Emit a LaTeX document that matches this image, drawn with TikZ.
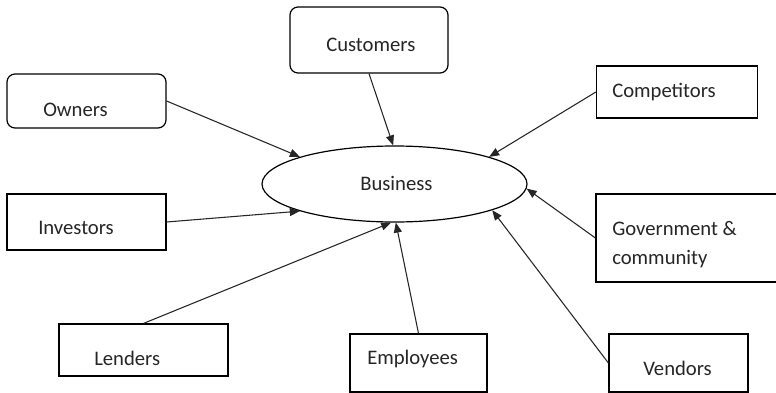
\documentclass[tikz,border=0pt]{standalone}
\usepackage{fontspec}
\setmainfont{Carlito}
\usetikzlibrary{shapes.geometric,arrows.meta}
\tikzset{
  box/.style={draw=black, line width=0.9pt, inner sep=0pt},
  rbox/.style={box, rounded corners=6pt},
  lbl/.style={inner sep=0pt, anchor=west, font=\fontsize{15.5}{21.75}\selectfont, text=black!85},
  arr/.style={draw=black!85, line width=0.8pt, -{Triangle[length=7.5pt,width=6pt]}},
}
\begin{document}
\begin{tikzpicture}[x=0.75pt,y=-0.75pt]
\clip (0,0) rectangle (776,393);
\fill[white] (0,0) rectangle (776,393);
% boxes
\node[rbox, minimum width=158*0.75pt, minimum height=66*0.75pt] (cust) at (369,40) {};
\node[rbox, minimum width=159*0.75pt, minimum height=54*0.75pt] (own) at (86.5,101) {};
\node[box, minimum width=159*0.75pt, minimum height=56*0.75pt] (inv) at (86.5,222) {};
\node[box, minimum width=169*0.75pt, minimum height=52*0.75pt] (len) at (143.5,350) {};
\node[box, minimum width=137*0.75pt, minimum height=58*0.75pt] (emp) at (418.5,363) {};
\node[box, minimum width=139*0.75pt, minimum height=58*0.75pt] (ven) at (678.5,363) {};
\node[box, minimum width=204*0.75pt, minimum height=88*0.75pt] (gov) at (698,238) {};
\node[box, minimum width=161*0.75pt, minimum height=52*0.75pt] (comp) at (677,92) {};
\node[box, ellipse, minimum width=265*0.75pt, minimum height=76*0.75pt] (bus) at (394.5,184) {};
% labels
\node[lbl] (tcust) at (326,45) {Customers};
\node[lbl] (town) at (43,110) {Owners};
\node[lbl] (tinv) at (38,228) {Investors};
\node[lbl] (tlen) at (94,358) {Lenders};
\node[lbl] (temp) at (367,359) {Employees};
\node[lbl] (tven) at (643,368) {Vendors};
\node[lbl, align=left] (tgov) at (612,245) {Government \&\\community};
\node[lbl] (tcomp) at (612,92) {Competitors};
\node[lbl] (tbus) at (360,183) {Business};
% arrows
\draw[arr] (own.east) -- (bus.164.6);
\draw[arr] (cust.south) -- (bus.92);
\draw[arr] (comp.west) -- (bus.16.1);
\draw[arr] (gov.west) -- (bus.-2);
\draw[arr] (ven.west) -- (bus.-15.4);
\draw[arr] (emp.north) -- (bus.-88);
\draw[arr] (len.north) -- (bus.-95);
\draw[arr] (inv.east) -- (bus.196);
\end{tikzpicture}
\end{document}
